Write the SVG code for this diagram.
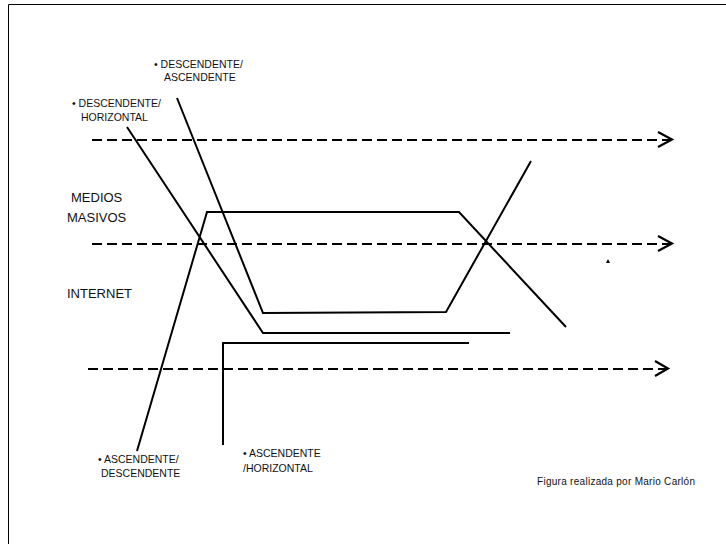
<svg xmlns="http://www.w3.org/2000/svg" width="726" height="544" viewBox="0 0 726 544">
<style>
.t{font-family:"Liberation Sans",Arial,sans-serif;fill:#111}
.s{font-size:10.5px}
.m{font-size:13px}
.ln{fill:none;stroke:#000;stroke-width:2;stroke-linejoin:miter}
.da{fill:none;stroke:#000;stroke-width:2;stroke-dasharray:10 5}
.ah{fill:none;stroke:#000;stroke-width:2.2}
</style>
<rect width="726" height="544" fill="#fff"/>
<path d="M8.5,544 V4.5 H726" fill="none" stroke="#000" stroke-width="1"/>
<g id="connectors">
<g id="arrow1"><line class="da" x1="92" y1="140" x2="670" y2="140"/><polyline class="ah" points="658,132 672,139.5 658,147"/></g>
<g id="arrow2"><line class="da" x1="92" y1="244" x2="670" y2="244"/><polyline class="ah" points="658,236 672,243.5 658,251"/></g>
<g id="arrow3"><line class="da" x1="88" y1="369" x2="666" y2="369"/><polyline class="ah" points="655,361 668,368.5 655,376"/></g>
<g id="line-desc-asc"><polyline class="ln" points="177,98 263,313 446,312 531,161"/></g>
<g id="line-desc-hor"><polyline class="ln" points="127,127 263,333 510,333"/></g>
<g id="line-asc-desc"><polyline class="ln" points="137,451 207,212 459,212 566,327"/></g>
<g id="line-asc-hor"><polyline class="ln" points="223,445 223,343 469,343"/></g>
<polygon points="606,263 610,263 608,259" fill="#000"/>
</g>
<g id="label-desc-asc"><text class="t s" x="154" y="68">• DESCENDENTE/</text><text class="t s" x="164" y="81">ASCENDENTE</text></g>
<g id="label-desc-hor"><text class="t s" x="72" y="107">• DESCENDENTE/</text><text class="t s" x="81" y="121">HORIZONTAL</text></g>
<g id="label-medios"><text class="t m" x="71" y="202">MEDIOS</text><text class="t m" x="67" y="222">MASIVOS</text></g>
<g id="label-internet"><text class="t m" x="67" y="298">INTERNET</text></g>
<g id="label-asc-desc"><text class="t s" x="98" y="463">• ASCENDENTE/</text><text class="t s" x="101" y="477">DESCENDENTE</text></g>
<g id="label-asc-hor"><text class="t s" x="243" y="457">• ASCENDENTE</text><text class="t s" x="243" y="472">/HORIZONTAL</text></g>
<g id="credit"><text class="t" font-size="10" x="537" y="485" textLength="158" lengthAdjust="spacing">Figura  realizada por Mario Carlón</text></g>
</svg>
